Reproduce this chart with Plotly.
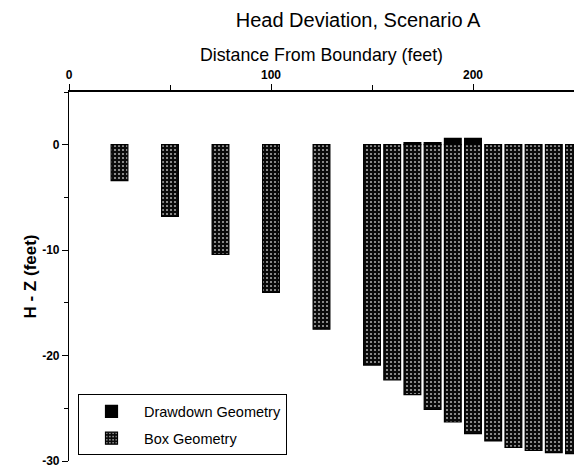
import plotly.graph_objects as go

# Data
distance_ft = [25, 50, 75, 100, 125, 150, 160, 170, 180, 190, 200, 210, 220, 230, 240, 250]
box_geometry = [-3.4, -6.8, -10.4, -14.0, -17.5, -20.9, -22.3, -23.7, -25.1, -26.3,
                -27.4, -28.1, -28.7, -29.0, -29.2, -29.3]
drawdown_geometry = [0, 0, 0, 0, 0, 0, 0, 0.2, 0.2, 0.6, 0.6, 0, 0, 0, 0, 0]

x_ticks = [0, 100, 200]
y_ticks = [-30, -20, -10, 0]

FONT = "Liberation Sans, Arial, sans-serif"
BAR_W = 8.3

fig = go.Figure()
fig.add_trace(go.Bar(
    x=distance_ft, y=drawdown_geometry, width=BAR_W,
    name="Drawdown Geometry", legendgroup="a",
    marker=dict(color="black", line=dict(color="black", width=1.2)),
))
fig.add_trace(go.Bar(
    x=distance_ft, y=box_geometry, width=BAR_W,
    name="Box Geometry", legendgroup="b",
    marker=dict(color="#111111",
                line=dict(color="black", width=1.2),
                pattern=dict(shape=".", bgcolor="#0a0a0a", fgcolor="#a8a8a8",
                             size=4, solidity=0.22, fillmode="replace")),
))

fig.update_layout(
    width=574, height=468,
    margin=dict(l=69, r=0, t=92, b=5),
    paper_bgcolor="white", plot_bgcolor="white",
    barmode="overlay",
    font=dict(family=FONT, color="black"),
    title=dict(text="Head Deviation, Scenario A", x=358 / 574, xanchor="center",
               y=1 - 20 / 468, yanchor="middle", yref="container",
               font=dict(size=20, family=FONT, color="black")),
    xaxis=dict(
        side="top", range=[0, 250], tickvals=x_ticks, ticktext=[str(v) for v in x_ticks],
        showgrid=False, zeroline=False, showline=True, linecolor="black", linewidth=1.5,
        ticks="outside", ticklen=6, tickwidth=1.2, tickcolor="black",
        tickfont=dict(size=12, family=FONT, weight="bold"),
        minor=dict(dtick=50, ticks="outside", ticklen=5, tickcolor="black", showgrid=False),
        title=dict(text="Distance From Boundary (feet)", standoff=2,
                   font=dict(size=17.8, family=FONT)),
    ),
    yaxis=dict(
        range=[-30, 5], tickvals=y_ticks, ticktext=[str(v) for v in y_ticks],
        showgrid=False, zeroline=False, showline=True, linecolor="black", linewidth=1.2,
        ticks="outside", ticklen=6, tickwidth=1.2, tickcolor="black",
        tickfont=dict(size=12, family=FONT, weight="bold"),
        ticklabeloverflow="allow",
        minor=dict(dtick=5, ticks="outside", ticklen=4, tickcolor="black", showgrid=False),
        title=dict(text="H - Z (feet)", standoff=1,
                   font=dict(size=17, family=FONT, weight="bold")),
    ),
    legend=dict(
        x=(78 - 69) / 505, y=(463 - 396) / 371, xanchor="left", yanchor="top",
        bgcolor="white", bordercolor="black", borderwidth=1,
        font=dict(size=14.5, family=FONT, color="black"),
        tracegroupgap=5, itemwidth=55, entrywidth=246, entrywidthmode="pixels",
        traceorder="grouped",
    ),
)

fig.write_html("out.html")
